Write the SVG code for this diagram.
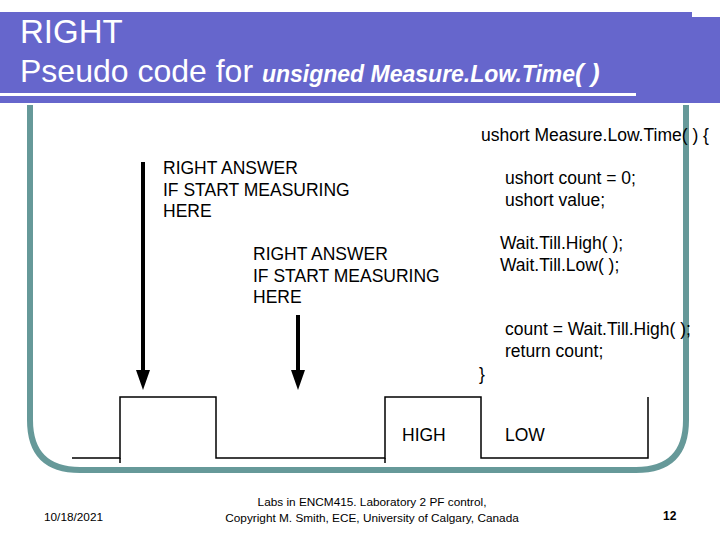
<svg xmlns="http://www.w3.org/2000/svg" width="720" height="540" viewBox="0 0 720 540">
<style>
.t{font-family:"Liberation Sans",Arial,sans-serif;fill:#000;font-size:17.5px}
.w{fill:none;stroke:#000;stroke-width:1.5}
</style>
<rect x="0" y="0" width="720" height="540" fill="#fff"/>
<g id="title">
<rect x="0" y="17" width="720" height="86" fill="#6666CC"/>
<rect x="0" y="12" width="692" height="10" fill="#6666CC"/>
<rect x="0" y="93" width="636" height="3" fill="#fff"/>
<text x="20" y="43" font-family="Liberation Sans,Arial,sans-serif" font-size="33" fill="#fff">RIGHT</text>
<text x="20" y="82" font-family="Liberation Sans,Arial,sans-serif" font-size="32" fill="#fff">Pseudo code for <tspan font-size="23" font-style="italic" font-weight="bold">unsigned Measure.Low.Time</tspan><tspan font-size="26" font-style="italic" font-weight="bold">( )</tspan></text>
</g>
<path id="frame" d="M30,105 V420 Q30,470 80,470 H636 Q686,470 686,420 V105" fill="none" stroke="#669999" stroke-width="6"/>
<g id="code" class="t">
<text x="481" y="141">ushort Measure.Low.Time( ) {</text>
<text x="505" y="184">ushort count = 0;</text>
<text x="505" y="206">ushort value;</text>
<text x="500" y="249">Wait.Till.High( );</text>
<text x="500" y="271">Wait.Till.Low( );</text>
<text x="505" y="335">count = Wait.Till.High( );</text>
<text x="505" y="357">return count;</text>
<text x="479" y="380">}</text>
</g>
<g id="label1" class="t">
<text x="163" y="174">RIGHT ANSWER</text>
<text x="163" y="196">IF START MEASURING</text>
<text x="163" y="217">HERE</text>
</g>
<g id="label2" class="t">
<text x="253" y="260">RIGHT ANSWER</text>
<text x="253" y="282">IF START MEASURING</text>
<text x="253" y="303">HERE</text>
</g>
<g id="connectors">
<line x1="143" y1="162" x2="143" y2="372" stroke="#000" stroke-width="4"/>
<polygon points="136,370 150,370 143,390" fill="#000"/>
<line x1="298" y1="315" x2="298" y2="372" stroke="#000" stroke-width="4"/>
<polygon points="291,370 305,370 298,390" fill="#000"/>
</g>
<g id="waveform">
<path class="w" d="M72,458 H120 V397 H216 V458 H385 V397 H481 V458 H648 V397"/>
<line class="w" x1="120" y1="458" x2="120" y2="463"/>
<line class="w" x1="385" y1="458" x2="385" y2="463"/>
<text class="t" x="402" y="441">HIGH</text>
<text class="t" x="505" y="441">LOW</text>
</g>
<g id="footer" font-family="Liberation Sans,Arial,sans-serif" font-size="11.8">
<text x="44" y="521">10/18/2021</text>
<text x="372" y="506" text-anchor="middle">Labs in ENCM415. Laboratory 2 PF control,</text>
<text x="372" y="522" text-anchor="middle">Copyright M. Smith, ECE, University of Calgary, Canada</text>
<text x="663" y="520" font-weight="bold" font-size="12">12</text>
</g>
</svg>
